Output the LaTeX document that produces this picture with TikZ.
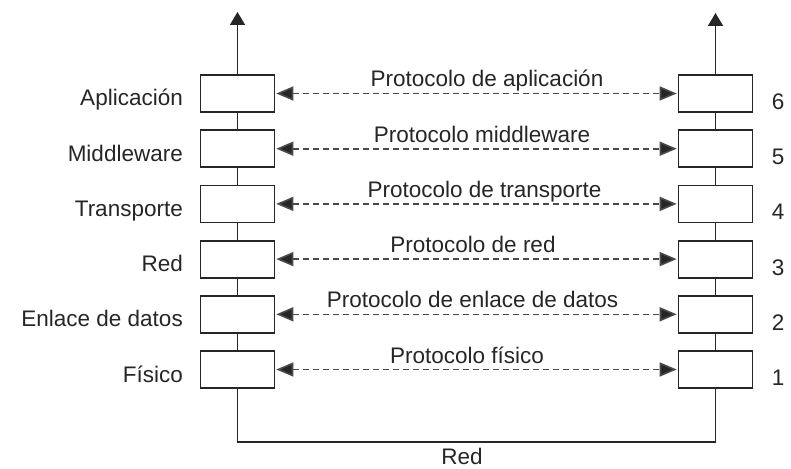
\documentclass[tikz,border=0pt]{standalone}
\usepackage{fontspec}
\setmainfont{Liberation Sans}
\usetikzlibrary{arrows.meta}
\definecolor{ink}{HTML}{262626}
\definecolor{dashink}{HTML}{4a4a4a}
\begin{document}
\begin{tikzpicture}[x=1pt,y=-1pt,
  layer/.style={draw=ink, line width=1.8pt, minimum width=74pt, minimum height=37pt, inner sep=0pt, fill=white},
  link/.style={draw=ink, line width=1.8pt},
  uptip/.style={-{Triangle[length=13pt,width=15pt]}},
  proto/.style={draw=dashink, line width=1.6pt, dash pattern=on 6pt off 4pt,
    {Triangle[length=17pt,width=14pt,fill=ink]}-{Triangle[length=17pt,width=14pt,fill=ink]}, shorten <=0.9pt, shorten >=0.9pt},
  txt/.style={font=\fontsize{22.5}{26}\selectfont, text=ink, inner sep=0pt}
]
\useasboundingbox (0,0) rectangle (791,468);
\fill[white] (0,0) rectangle (791,468);

% protocol stacks: layer 1 at the bottom, layer 6 at the top
\foreach \k/\name/\proto/\dx [evaluate=\k as \cy using {369.5-55.2*(\k-1)}] in
  {1/Físico/Protocolo físico/-9.5,
   2/Enlace de datos/Protocolo de enlace de datos/-4,
   3/Red/Protocolo de red/-3.5,
   4/Transporte/Protocolo de transporte/8,
   5/Middleware/Protocolo middleware/5.5,
   6/Aplicación/Protocolo de aplicación/10.5}{
  \node[layer] (L\k) at (237.5,\cy) {};
  \node[layer] (R\k) at (715.5,\cy) {};
  \node[txt, anchor=base east] (n\k) at (183,\cy+12.5) {\name};
  \node[txt, anchor=base] (num\k) at (778,\cy+16) {\k};
  \draw[proto] (L\k.east) -- node[txt, anchor=base, yshift=6.5pt, xshift=\dx pt] (p\k) {\proto} (R\k.west);
}

% links between adjacent layers
\foreach \a/\b in {1/2,2/3,3/4,4/5,5/6}{
  \draw[link] (L\a.north) -- (L\b.south);
  \draw[link] (R\a.north) -- (R\b.south);
}

% upward arrows above the top layers
\coordinate (topL) at (237.5,12);
\coordinate (topR) at (715.5,13);
\draw[link, uptip] (L6.north) -- (topL);
\draw[link, uptip] (R6.north) -- (topR);

% physical network between the two hosts
\coordinate (bus) at (0,442);
\draw[link] (L1.south) -- (L1.south |- bus) -- (R1.south |- bus) -- (R1.south);
\node[txt, anchor=base] (net) at (462,464) {Red};
\end{tikzpicture}
\end{document}
